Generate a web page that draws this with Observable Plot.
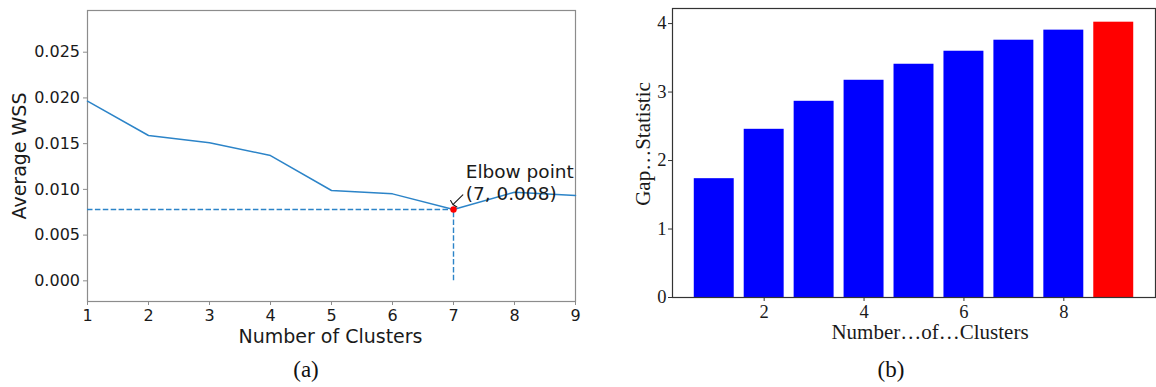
<!DOCTYPE html>
<html><head><meta charset="utf-8">
<script src="https://cdn.jsdelivr.net/npm/d3@7"></script>
<script src="https://cdn.jsdelivr.net/npm/@observablehq/plot@0.6"></script>
<style>
html,body{margin:0;padding:0;background:#fff;}
#wrap{position:relative;width:1156px;height:387px;overflow:hidden;background:#fff;}
#a,#b{position:absolute;top:0;}
#a{left:0;} #b{left:590px;}
#a svg g[aria-label="x-axis tick label"], #a svg g[aria-label="y-axis tick label"]{font-size:16px !important;font-family:"DejaVu Sans",sans-serif !important;}
#b svg g[aria-label="x-axis tick label"], #b svg g[aria-label="y-axis tick label"]{font-size:18.5px !important;font-family:"Liberation Serif",serif !important;}
.cap{position:absolute;width:100px;text-align:center;font-family:"Liberation Serif",serif;font-size:23px;line-height:26px;color:#111;}
</style></head><body>
<div id="wrap"><div id="a"></div><div id="b"></div>
<div class="cap" id="capA" style="left:256px;top:357px"></div>
<div class="cap" id="capB" style="left:841px;top:357px"></div></div>
<script>
// ---- data: panel (a) elbow method ----
const clusters = [1, 2, 3, 4, 5, 6, 7, 8, 9];
const avgWSS = [0.01964, 0.01589, 0.01509, 0.01370, 0.00988, 0.00951, 0.00780, 0.00969, 0.00933];
const elbowK = 7;
const elbowLabel = "Elbow point\n(7, 0.008)";
const xTicksA = [1, 2, 3, 4, 5, 6, 7, 8, 9];
const yTicksA = [0, 0.005, 0.010, 0.015, 0.020, 0.025];
const xLabelA = "Number of Clusters";
const yLabelA = "Average WSS";

// ---- data: panel (b) gap statistic ----
const gapK = [1, 2, 3, 4, 5, 6, 7, 8, 9];
const gapStat = [1.735, 2.456, 2.865, 3.172, 3.406, 3.596, 3.757, 3.904, 4.020];
const bestK = 9;
const xTicksB = [2, 4, 6, 8];
const yTicksB = [0, 1, 2, 3, 4];
const xLabelB = "Number\u2026of\u2026Clusters";
const yLabelB = "Gap\u2026Statistic";
const captions = ["(a)", "(b)"];

const blue = "#2c84c8";
const ink = "#1a1a1a";

const wssData = clusters.map((k, i) => ({k, v: avgWSS[i]}));
const elbow = wssData.find(d => d.k === elbowK);

const plotA = Plot.plot({
  width: 595, height: 350,
  marginLeft: 87, marginRight: 20, marginTop: 10, marginBottom: 49,
  style: {fontFamily: "DejaVu Sans", fontSize: "16px", color: ink, background: "transparent"},
  x: {type: "linear", domain: [1, 9]},
  y: {domain: [-0.00226, 0.02956]},
  marks: [
    Plot.frame({stroke: "#8c8c8c", strokeWidth: 1.2}),
    Plot.axisX(xTicksA, {anchor: "bottom", tickSize: 4, tickPadding: 4, stroke: "#8c8c8c", label: null}),
    Plot.axisY(yTicksA, {anchor: "left", tickSize: 4, tickPadding: 3.5, stroke: "#8c8c8c", label: null, tickFormat: d3.format(".3f")}),
    Plot.ruleY([elbow], {y: "v", x1: clusters[0], x2: "k", stroke: blue, strokeWidth: 1.4, strokeDasharray: "5.5,2.4"}),
    Plot.ruleX([elbow], {x: "k", y1: 0, y2: "v", stroke: blue, strokeWidth: 1.4, strokeDasharray: "5.5,2.4"}),
    Plot.line(wssData, {x: "k", y: "v", stroke: blue, strokeWidth: 1.5}),
    Plot.dot([elbow], {x: "k", y: "v", r: 3.2, fill: "#ff0000"}),
    Plot.arrow([elbow], {
      x1: d => d.k + 0.153, y1: d => d.v + 0.00161,
      x2: d => d.k - 0.01, y2: d => d.v + 0.00054,
      stroke: ink, strokeWidth: 1.1, headLength: 7, headAngle: 150
    }),
    Plot.text([elbow], {
      x: d => d.k + 0.2, y: d => d.v + 0.00109, text: () => elbowLabel,
      textAnchor: "start", lineAnchor: "bottom", lineHeight: 1.15, fontSize: 18.5, fill: ink
    }),
    Plot.text([xLabelA], {text: d => d, frameAnchor: "bottom", textAnchor: "middle", lineAnchor: "middle", dy: 35, dx: -1, fontSize: 19, fill: ink}),
    Plot.text([yLabelA], {text: d => d, frameAnchor: "left", textAnchor: "middle", lineAnchor: "middle", rotate: -90, dx: -68, fontSize: 19, fill: ink})
  ]
});
document.getElementById("a").appendChild(plotA);

const gapData = gapK.map((k, i) => ({k, v: gapStat[i], color: k === bestK ? "#ff0000" : "#0000ff"}));

const plotB = Plot.plot({
  width: 566, height: 350,
  marginLeft: 82, marginRight: 1, marginTop: 8, marginBottom: 53,
  style: {fontFamily: "Liberation Serif", fontSize: "18px", color: ink, background: "transparent"},
  x: {type: "linear", domain: [0.164, 9.836]},
  y: {domain: [0, 4.22]},
  color: {type: "identity"},
  marks: [
    Plot.rectY(gapData, {x1: d => d.k - 0.4, x2: d => d.k + 0.4, y1: 0, y2: "v", fill: "color"}),
    Plot.frame({stroke: "#333", strokeWidth: 1.2}),
    Plot.axisX(xTicksB, {anchor: "bottom", tickSize: 4, tickPadding: 3, stroke: "#333", label: null, tickFormat: d3.format("d")}),
    Plot.axisY(yTicksB, {anchor: "left", tickSize: 4, tickPadding: 2, stroke: "#333", label: null, tickFormat: d3.format("d")}),
    Plot.text([xLabelB], {text: d => d, frameAnchor: "bottom", textAnchor: "middle", lineAnchor: "middle", dy: 35, dx: 16, fontSize: 21, fill: ink}),
    Plot.text([yLabelB], {text: d => d, frameAnchor: "left", textAnchor: "middle", lineAnchor: "middle", rotate: -90, dx: -29.4, dy: -9, fontSize: 21, fill: ink})
  ]
});
document.getElementById("b").appendChild(plotB);

document.getElementById("capA").textContent = captions[0];
document.getElementById("capB").textContent = captions[1];
</script>
</body></html>
